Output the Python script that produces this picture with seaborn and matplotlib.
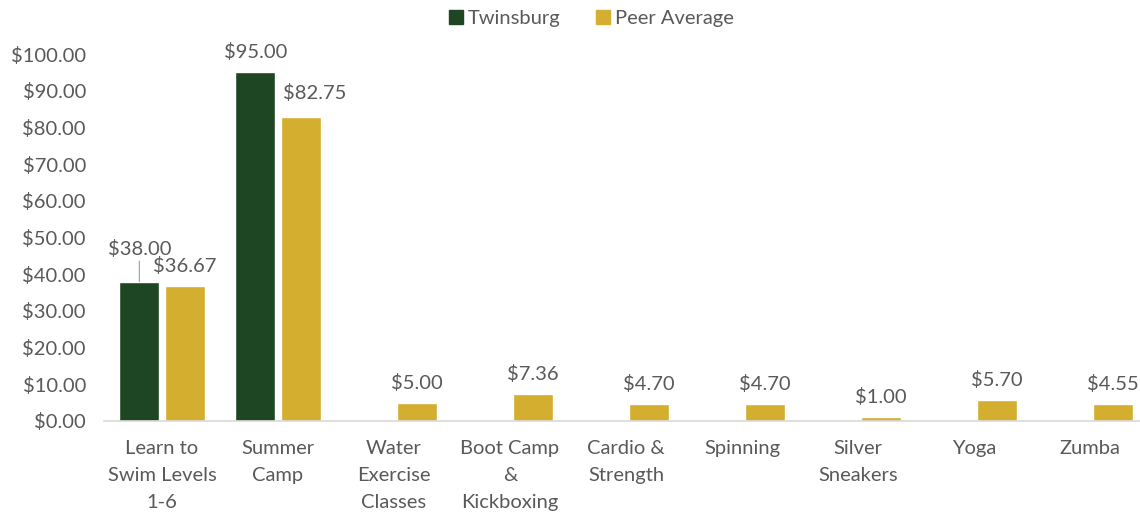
import numpy as np
import pandas as pd
import matplotlib
matplotlib.use("Agg")
import matplotlib.pyplot as plt
import seaborn as sns

# donnees
categories = ["Learn to\nSwim Levels\n1-6", "Summer\nCamp", "Water\nExercise\nClasses",
              "Boot Camp\n&\nKickboxing", "Cardio &\nStrength", "Spinning",
              "Silver\nSneakers", "Yoga", "Zumba"]
twinsburg = [38.00, 95.00, np.nan, np.nan, np.nan, np.nan, np.nan, np.nan, np.nan]
peer_avg = [36.67, 82.75, 5.00, 7.36, 4.70, 4.70, 1.00, 5.70, 4.55]
series = ["Twinsburg", "Peer Average"]
couleurs = ["#1F4623", "#D4AF2F"]
gris = "#595959"
taille = 14.5

rows = []
for cat, t, p in zip(categories, twinsburg, peer_avg):
    rows.append({"cat": cat, "serie": "Twinsburg", "val": t})
    rows.append({"cat": cat, "serie": "Peer Average", "val": p})
df = pd.DataFrame(rows)

sns.set_style("white")
plt.rcParams['font.family'] = ['Lato', 'DejaVu Sans']

fig = plt.figure(figsize=(11.4, 5.17), dpi=100)
ax = fig.add_axes([104 / 1140, 96 / 517, 1044 / 1140, 367 / 517])

sns.barplot(data=df.dropna(), x="cat", y="val", hue="serie", order=categories,
            hue_order=series, palette=couleurs, saturation=1, width=0.78, gap=0.12,
            legend=False, ax=ax)

ax.set_xlim(-0.5, len(categories) - 0.5)
ax.set_ylim(0, 100)
ax.set_yticks(np.arange(0, 101, 10))
ax.set_yticklabels([f"${v:.2f}" for v in np.arange(0, 101, 10)])
ax.set_xlabel("")
ax.set_ylabel("")
ax.tick_params(axis="both", length=0, labelsize=taille, colors=gris)
ax.tick_params(axis="y", pad=13)
ax.tick_params(axis="x", pad=14)
for lab in ax.get_xticklabels():
    lab.set_linespacing(1.7)
    lab.set_verticalalignment("top")

for s in ["top", "right", "left"]:
    ax.spines[s].set_visible(False)
ax.spines["bottom"].set_color("#D9D9D9")
ax.spines["bottom"].set_linewidth(1.2)

# etiquettes de valeurs
for container, serie in zip(ax.containers, series):
    for bar in container:
        h = bar.get_height()
        if np.isnan(h):
            continue
        xc = bar.get_x() + bar.get_width() / 2
        if serie == "Twinsburg" and abs(h - 38.0) < 0.01:
            ax.annotate(f"${h:.2f}", xy=(xc, h), xytext=(0, 17), textcoords="offset points",
                        ha="center", va="bottom", fontsize=taille, color=gris,
                        arrowprops=dict(arrowstyle="-", color="#A6A6A6", lw=0.9,
                                        shrinkA=0, shrinkB=0), annotation_clip=False)
        elif serie == "Peer Average" and abs(h - 82.75) < 0.01:
            ax.annotate(f"${h:.2f}", xy=(xc, h), xytext=(10, 11), textcoords="offset points",
                        ha="center", va="bottom", fontsize=taille, color=gris,
                        annotation_clip=False)
        else:
            ax.annotate(f"${h:.2f}", xy=(xc, h), xytext=(0, 8), textcoords="offset points",
                        ha="center", va="bottom", fontsize=taille, color=gris,
                        annotation_clip=False)

handles = [plt.Line2D([], [], marker="s", linestyle="", markersize=10,
                      color=c) for c in couleurs]
fig.legend(handles, series, loc="center", bbox_to_anchor=(590 / 1140, 1 - 18 / 517),
           ncol=2, frameon=False, fontsize=taille, labelcolor=gris,
           handletextpad=0.1, columnspacing=1.6, handlelength=1.0)

fig.savefig("out.png", dpi=100)
